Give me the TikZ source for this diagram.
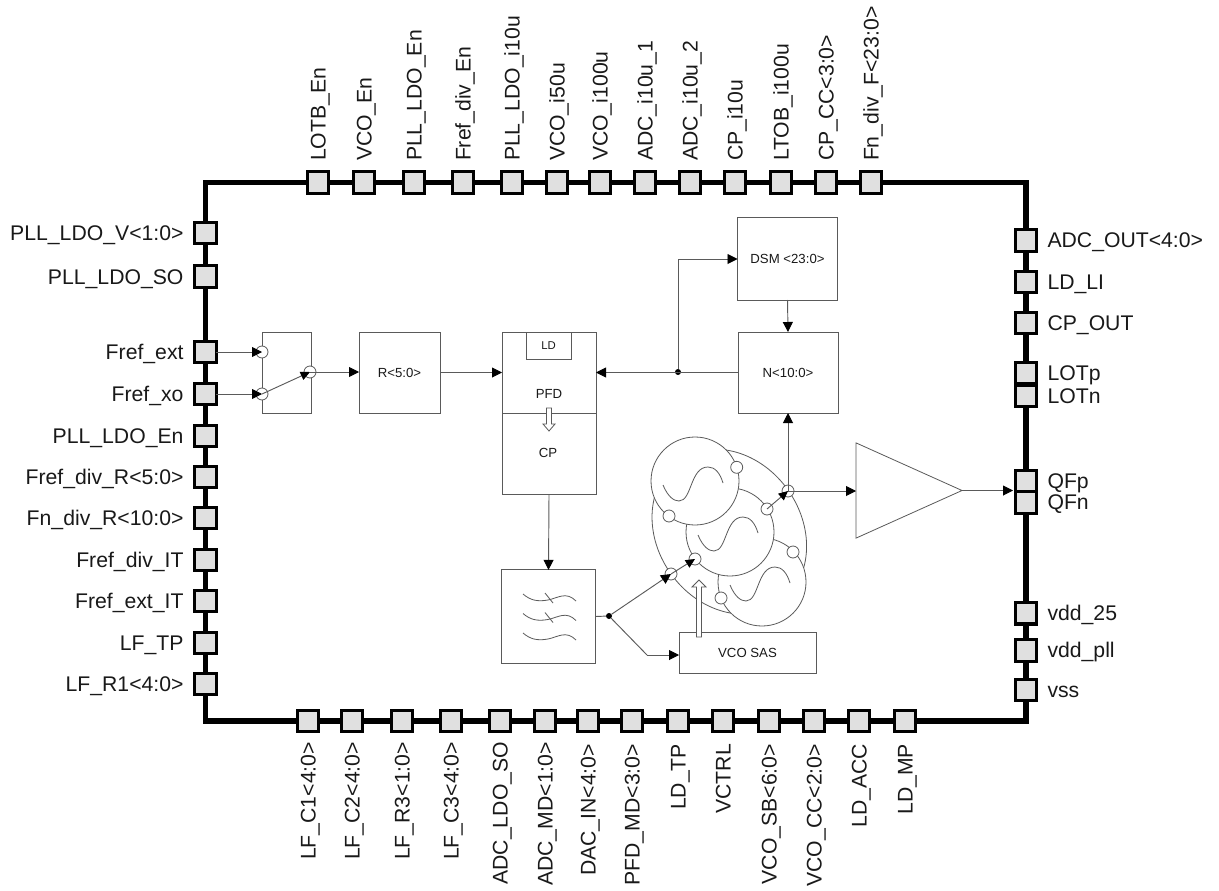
\documentclass[tikz,border=0pt]{standalone}
\usepackage{fontspec}
\setmainfont{Liberation Sans}
\usetikzlibrary{arrows.meta,shapes.geometric}
\definecolor{ln}{HTML}{5A5A5A}
\definecolor{padfill}{HTML}{E0E0E0}
\tikzset{
  pad/.style={draw=black,fill=padfill,line width=2.4pt,minimum width=16pt,minimum height=16pt,inner sep=0pt,outer sep=0pt},
  padlabel/.style={inner sep=0pt,outer sep=0pt,font=\fontsize{15.9}{18}\selectfont,text=black!90},
  blk/.style={draw=ln,line width=0.75pt,fill=white,inner sep=0pt,outer sep=0pt},
  conn/.style={draw=ln,line width=0.7pt},
  arr/.style={conn,-{Triangle[length=7.5pt,width=7.5pt,color=black]}},
  sarr/.style={conn,-{Triangle[length=7pt,width=6.5pt,color=black]}},
  hollow/.style={draw=ln,line width=0.6pt,fill=white},
  port/.style={circle,draw=ln,line width=0.6pt,fill=white,minimum size=9pt,inner sep=0pt,outer sep=0pt},
  junction/.style={circle,fill=black,minimum size=4.5pt,inner sep=0pt,outer sep=0pt},
  disc/.style={circle,draw=ln,line width=0.6pt,fill=white,minimum size=66pt,inner sep=0pt,outer sep=0pt},
  curve/.style={draw=ln,line width=0.6pt},
  small/.style={font=\fontsize{9.9}{12}\selectfont,text=black!90},
  tiny/.style={font=\fontsize{8.5}{10}\selectfont,text=black!90},
}
\begin{document}
\begin{tikzpicture}[x=0.75pt,y=-0.75pt]
\useasboundingbox (0,0) rectangle (1219,891);
% chip outline
\node[draw=black,line width=3.9pt,minimum width=615.4pt,minimum height=403.9pt,inner sep=0pt] (chip) at (615.75,451.75) {};
% top pads
\foreach \x/\t in {318/LOTB\_En,364/VCO\_En,414/PLL\_LDO\_En,463/Fref\_div\_En,512/PLL\_LDO\_i10u,557/VCO\_i50u,600/VCO\_i100u,645/ADC\_i10u\_1,690/ADC\_i10u\_2,735/CP\_i10u,781/LTOB\_i100u,826/CP\_CC<3:0>,871/Fn\_div\_F<23:0>}{
  \node[pad] (T\x) at (\x,182.5) {};
  \node[padlabel,rotate=90,anchor=base west] (TL\x) at (\x+7.5,161) {\t};
}
% bottom pads
\foreach \x/\t in {308/LF\_C1<4:0>,352/LF\_C2<4:0>,402/LF\_R3<1:0>,451/LF\_C3<4:0>,500/ADC\_LDO\_SO,545/ADC\_MD<1:0>}{
  \node[pad] (B\x) at (\x,721) {};
  \node[padlabel,rotate=90,anchor=base east] (BL\x) at (\x+7.5,742) {\t};
}
\foreach \x/\t in {588/DAC\_IN<4:0>,632/PFD\_MD<3:0>,678/LD\_TP,723/VCTRL,769/VCO\_SB<6:0>,814/VCO\_CC<2:0>,859/LD\_ACC,905/LD\_MP}{
  \node[pad] (B\x) at (\x,721) {};
  \node[padlabel,rotate=90,anchor=base east] (BL\x) at (\x+7.5,744) {\t};
}
% left pads
\foreach \y/\t in {233/PLL\_LDO\_V<1:0>,276.5/PLL\_LDO\_SO,352/Fref\_ext,394/Fref\_xo,436/PLL\_LDO\_En,477/Fref\_div\_R<5:0>,518/Fn\_div\_R<10:0>,560/Fref\_div\_IT,601/Fref\_ext\_IT,643/LF\_TP,684/LF\_R1<4:0>}{
  \node[pad] (L\y) at (205.5,\y) {};
  \node[padlabel,anchor=base east] (LL\y) at (183.5,\y+7.5) {\t};
}
% right pads
\foreach \y/\t in {240.5/ADC\_OUT<4:0>,282/LD\_LI,323/CP\_OUT,373/LOTp,396/LOTn,481/QFp,502.5/QFn,613.3/vdd\_25,650.5/vdd\_pll,690/vss}{
  \node[pad] (R\y) at (1026,\y) {};
  \node[padlabel,anchor=base west] (RL\y) at (1047.5,\y+7.3) {\t};
}
% input switch
\node[blk,minimum width=36.75pt,minimum height=60.75pt] (sw) at (286.5,372.5) {};
\node[port] (swa) at (262,352) {};
\node[port] (swb) at (262,394) {};
\node[port] (swo) at (310,372) {};
% blocks
\node[blk,small,minimum width=60.75pt,minimum height=60.75pt] (rdiv) at (399.5,372.5) {R<5:0>};
\node[blk,minimum width=70.5pt,minimum height=60.75pt] (pfd) at (549,372.5) {};
\node[small,inner sep=0pt] (pfdt) at (549,394) {PFD};
\node[blk,tiny,minimum width=33.75pt,minimum height=20.25pt] (ld) at (548.5,345.5) {LD};
\node[blk,minimum width=70.5pt,minimum height=60.75pt] (cp) at (549,453.5) {};
\node[small,inner sep=0pt] (cpt) at (548,453) {CP};
\draw[hollow] (546.5,408) -- (551.5,408) -- (551.5,424) -- (555,424) -- (549,431) -- (543,424) -- (546.5,424) -- cycle;
\node[blk,small,minimum width=75pt,minimum height=61.5pt] (dsm) at (787.5,259) {DSM <23:0>};
\node[blk,small,minimum width=75pt,minimum height=60.75pt] (ndiv) at (788,372.5) {N<10:0>};
\node[blk,minimum width=70pt,minimum height=70pt] (filt) at (548.5,616.5) {};
\foreach \d in {0,19.5,39}{
  \draw[curve] (523,594+\d) .. controls (530,600+\d) and (537,602+\d) .. (548,600+\d) .. controls (558,598+\d) and (566,591+\d) .. (576,601+\d);
}
\foreach \d in {0,19.5}{
  \draw[curve] (545,593+\d) -- (553,603+\d);
}
% VCO group
\draw[curve,fill=white] (729.3,531.7) ellipse[x radius=65.3pt,y radius=54pt,rotate=-55];
\node[disc] (d3) at (762,582) {};
\node[disc] (d2) at (730,532) {};
\node[disc] (d1) at (695,481) {};
\foreach \dx/\dy in {0/0,35/50,67/100}{
  \draw[curve,shift={(\dx,\dy)}] (663,485) .. controls (668,497) and (674,501) .. (679,501) .. controls (692,501) and (690,467) .. (708,467) .. controls (715,467) and (720,473) .. (723,483);
}
\node[port] (p1) at (736.7,467.3) {};
\node[port] (p2) at (669,516) {};
\node[port] (p3) at (767,509) {};
\node[port] (p4) at (695,559) {};
\node[port] (p5) at (793,552) {};
\node[port] (p6) at (721,598) {};
\node[port] (vout) at (788,491) {};
\node[port] (vin) at (671,574) {};
\node[blk,small,minimum width=102.75pt,minimum height=30.75pt] (sas) at (747.5,652.5) {VCO SAS};
\draw[hollow] (696.5,637) -- (701.5,637) -- (701.5,587) -- (706,587) -- (699,580) -- (692,587) -- (696.5,587) -- cycle;
% buffer
\node[draw=ln,line width=0.6pt,fill=white,isosceles triangle,isosceles triangle apex angle=48.4,minimum height=79.5pt,inner sep=0pt,outer sep=0pt,anchor=apex] (buf) at (962,490.5) {};
% junctions
\coordinate[junction] (j1) at (678,372);
\coordinate[junction] (j2) at (609,616);
\coordinate (k2) at (647,655);
% connectors
\draw[arr] (L352.east) -- (swa.center);
\draw[arr] (L394.east) -- (swb.center);
\draw[sarr] (swb.center) -- (swo.center);
\draw[arr] (swo.center) -- (rdiv.west |- swo.center);
\draw[arr] (rdiv.east) -- (pfd.west);
\draw[arr] (ndiv.west) -- (pfd.east);
\draw[arr] (j1) |- (dsm.west);
\draw[arr] (dsm.south) -- (ndiv.north);
\draw[arr] (cp.south) -- (filt.north);
\draw[conn] (filt.east) -- (j2);
\draw[arr] (j2) -- (vin.center);
\draw[sarr] (vin.center) -- (p4.center);
\draw[conn] (j2) -- (k2);
\draw[arr] (k2) -- (sas.west |- k2);
\draw[sarr] (p3.center) -- (vout.center);
\draw[arr] (vout.center) -- (vout.center |- ndiv.south);
\draw[arr] (vout.center) -- (buf.west |- vout.center);
\draw[arr] (buf.apex) -- (1013,490.5);
\end{tikzpicture}
\end{document}
